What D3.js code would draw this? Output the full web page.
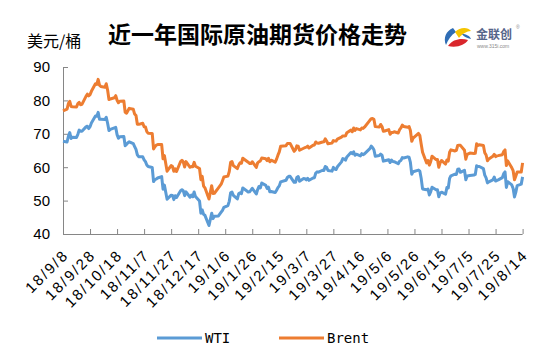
<!DOCTYPE html>
<html>
<head>
<meta charset="utf-8">
<script src="https://cdn.jsdelivr.net/npm/d3@7"></script>
<style>
  body { margin: 0; background: #fff; }
  svg { display: block; }
</style>
</head>
<body>
<svg id="chart" width="550" height="364"></svg>
<script>
// trading days (US settle dates), one row per month
var tradeDays = [
  "18/9/7","18/9/10","18/9/11","18/9/12","18/9/13","18/9/14","18/9/17","18/9/18","18/9/19","18/9/20","18/9/21","18/9/24","18/9/25","18/9/26","18/9/27","18/9/28",
  "18/10/1","18/10/2","18/10/3","18/10/4","18/10/5","18/10/8","18/10/9","18/10/10","18/10/11","18/10/12","18/10/15","18/10/16","18/10/17","18/10/18","18/10/19","18/10/22","18/10/23","18/10/24","18/10/25","18/10/26","18/10/29","18/10/30","18/10/31",
  "18/11/1","18/11/2","18/11/5","18/11/6","18/11/7","18/11/8","18/11/9","18/11/12","18/11/13","18/11/14","18/11/15","18/11/16","18/11/19","18/11/20","18/11/21","18/11/23","18/11/26","18/11/27","18/11/28","18/11/29","18/11/30",
  "18/12/3","18/12/4","18/12/5","18/12/6","18/12/7","18/12/10","18/12/11","18/12/12","18/12/13","18/12/14","18/12/17","18/12/18","18/12/19","18/12/20","18/12/21","18/12/24","18/12/26","18/12/27","18/12/28","18/12/31",
  "19/1/2","19/1/3","19/1/4","19/1/7","19/1/8","19/1/9","19/1/10","19/1/11","19/1/14","19/1/15","19/1/16","19/1/17","19/1/18","19/1/22","19/1/23","19/1/24","19/1/25","19/1/28","19/1/29","19/1/30","19/1/31",
  "19/2/1","19/2/4","19/2/5","19/2/6","19/2/7","19/2/8","19/2/11","19/2/12","19/2/13","19/2/14","19/2/15","19/2/19","19/2/20","19/2/21","19/2/22","19/2/25","19/2/26","19/2/27","19/2/28",
  "19/3/1","19/3/4","19/3/5","19/3/6","19/3/7","19/3/8","19/3/11","19/3/12","19/3/13","19/3/14","19/3/15","19/3/18","19/3/19","19/3/20","19/3/21","19/3/22","19/3/25","19/3/26","19/3/27","19/3/28","19/3/29",
  "19/4/1","19/4/2","19/4/3","19/4/4","19/4/5","19/4/8","19/4/9","19/4/10","19/4/11","19/4/12","19/4/15","19/4/16","19/4/17","19/4/18","19/4/22","19/4/23","19/4/24","19/4/25","19/4/26","19/4/29","19/4/30",
  "19/5/1","19/5/2","19/5/3","19/5/6","19/5/7","19/5/8","19/5/9","19/5/10","19/5/13","19/5/14","19/5/15","19/5/16","19/5/17","19/5/20","19/5/21","19/5/22","19/5/23","19/5/24","19/5/28","19/5/29","19/5/30","19/5/31",
  "19/6/3","19/6/4","19/6/5","19/6/6","19/6/7","19/6/10","19/6/11","19/6/12","19/6/13","19/6/14","19/6/17","19/6/18","19/6/19","19/6/20","19/6/21","19/6/24","19/6/25","19/6/26","19/6/27","19/6/28",
  "19/7/1","19/7/2","19/7/3","19/7/5","19/7/8","19/7/9","19/7/10","19/7/11","19/7/12","19/7/15","19/7/16","19/7/17","19/7/18","19/7/19","19/7/22","19/7/23","19/7/24","19/7/25","19/7/26","19/7/29","19/7/30","19/7/31",
  "19/8/1","19/8/2","19/8/5","19/8/6","19/8/7","19/8/8","19/8/9","19/8/12","19/8/13"
];

var wti = [
  67.75,67.54,69.25,70.37,68.59,68.99,68.91,69.85,71.12,70.80,70.78,72.08,72.28,71.57,72.12,73.25,
  75.30,75.23,76.41,74.33,74.34,74.29,74.96,73.17,70.97,71.34,71.78,71.92,69.75,68.65,69.12,69.17,66.43,66.82,67.33,67.59,67.04,66.18,65.31,
  63.69,63.14,63.10,62.21,61.67,60.67,60.19,59.93,55.69,56.25,56.46,56.76,57.20,53.43,54.63,50.42,51.63,51.56,50.29,51.45,50.93,
  52.95,53.25,52.89,51.49,52.61,51.00,51.65,51.15,52.58,51.20,49.88,46.24,47.20,45.88,45.59,42.53,46.22,44.61,45.33,45.41,
  46.54,47.09,47.96,48.52,49.78,52.36,52.59,51.59,50.51,52.11,52.31,52.07,53.80,52.57,52.62,53.13,53.69,51.99,53.31,54.23,53.79,
  55.26,54.56,53.66,54.01,52.64,52.72,52.41,53.10,53.90,54.41,55.59,56.09,56.92,57.26,57.26,55.48,55.50,56.94,57.22,
  55.80,56.59,56.56,56.22,56.66,56.07,56.79,56.87,58.26,58.61,58.52,59.09,59.03,60.23,59.98,59.04,58.82,59.94,59.41,59.30,60.14,
  61.59,62.58,62.46,62.10,63.08,64.40,64.05,64.61,63.58,63.89,63.40,64.05,63.76,64.00,65.55,66.30,65.89,65.21,63.30,63.50,63.91,
  63.60,61.81,61.94,62.25,61.40,62.12,61.70,61.66,61.04,61.78,62.02,62.87,62.76,63.10,62.99,61.42,57.91,58.63,59.14,58.81,56.59,53.50,
  53.25,53.48,51.68,52.59,53.99,53.26,53.27,51.14,52.28,52.51,51.93,53.90,53.76,56.65,57.43,57.90,57.83,59.38,59.43,58.47,
  59.09,56.25,57.34,57.51,57.66,57.83,60.43,60.20,60.21,59.58,57.62,56.78,55.30,55.63,56.22,57.04,55.88,56.02,56.20,56.87,58.05,58.58,
  53.95,55.66,54.69,53.63,51.09,52.54,54.50,54.93,57.10
];

var brent = [
  76.83,77.37,79.06,79.74,78.18,78.09,78.05,79.03,79.40,78.70,78.80,81.20,81.87,81.34,81.72,82.72,
  84.98,84.80,86.29,84.58,84.16,83.91,85.00,83.09,80.26,80.43,80.78,81.41,80.05,79.29,79.78,79.83,76.44,76.17,76.89,77.62,77.34,75.91,75.47,
  72.89,72.83,73.17,72.13,72.07,70.65,70.18,70.12,65.47,66.12,66.62,66.76,66.79,62.53,63.48,58.80,60.48,60.21,58.76,59.51,58.71,
  61.69,62.08,61.56,60.06,61.67,59.97,60.20,60.15,61.45,60.28,59.61,56.26,57.24,54.35,53.82,50.47,54.47,52.16,52.20,53.80,
  54.91,55.95,57.06,57.33,58.72,61.44,61.68,60.48,59.59,60.64,61.32,61.18,62.70,61.50,61.14,61.09,61.64,59.93,61.32,61.65,61.89,
  62.75,62.51,61.98,62.69,61.63,62.10,61.51,62.42,63.61,64.57,66.25,66.45,67.08,67.07,67.12,64.76,65.21,66.39,66.31,
  65.07,65.67,65.86,65.99,66.30,65.74,66.58,66.67,67.55,67.23,67.16,67.54,67.61,68.50,67.86,67.03,67.21,67.97,67.83,67.82,68.39,
  69.01,69.37,69.31,69.40,70.34,71.10,70.61,71.73,71.02,71.55,71.18,71.72,71.62,71.97,74.04,74.51,74.57,74.35,72.15,72.04,72.80,
  72.18,70.75,70.85,71.24,69.88,70.37,70.39,70.62,70.23,71.24,71.77,72.62,72.21,71.97,72.18,70.99,67.76,68.69,70.11,69.45,66.87,64.49,
  61.28,61.97,60.63,61.67,63.29,62.29,62.29,59.97,61.31,62.01,60.94,62.14,61.82,64.45,65.20,64.86,65.05,66.49,66.55,66.55,
  65.06,62.40,63.82,64.23,64.11,64.16,67.01,66.52,66.72,66.48,64.35,63.66,61.93,62.47,63.26,63.83,63.18,63.39,63.46,63.71,64.72,65.17,
  60.50,61.89,59.81,58.94,56.23,57.38,58.53,58.57,61.30
];

var tickLabels = ["18/9/8","18/9/28","18/10/18","18/11/7","18/11/27","18/12/17","19/1/6","19/1/26",
  "19/2/15","19/3/7","19/3/27","19/4/16","19/5/6","19/5/26","19/6/15","19/7/5","19/7/25","19/8/14"];
var yTicks = [40, 50, 60, 70, 80, 90];
var seriesNames = ["WTI", "Brent"];
var seriesColors = ["#5b9bd5", "#ed7d31"];

var parse = d3.utcParse("%y/%m/%d");
var fmt = d3.utcFormat("%y/%-m/%-d");

// the sheet stamps each settle with the next (Beijing) calendar day
var days = tradeDays.map(function(s) { return d3.utcDay.offset(parse(s), 1); });

var plotL = 63, plotR = 522.6, plotT = 67, plotB = 234;

var X = d3.scaleUtc()
    .domain([parse(tickLabels[0]), parse(tickLabels[tickLabels.length - 1])])
    .range([plotL, plotR]);
var Y = d3.scaleLinear()
    .domain([40, 90])
    .range([plotB, plotT]);

var svg = d3.select("#chart");
svg.append("rect").attr("width", 550).attr("height", 364).attr("fill", "#fff");

// titles
svg.append("text")
    .attr("x", 108).attr("y", 43)
    .style("font-family", "'Noto Sans CJK SC', sans-serif")
    .style("font-size", "23px").style("font-weight", "bold")
    .attr("fill", "#000")
    .text("近一年国际原油期货价格走势");

svg.append("text")
    .attr("x", 27).attr("y", 47)
    .style("font-family", "'Noto Sans CJK SC', sans-serif")
    .style("font-size", "16px")
    .attr("fill", "#000")
    .text("美元/桶");

// axes
var xAxis = d3.axisBottom(X)
    .tickValues(tickLabels.map(parse))
    .tickSize(-5)
    .tickFormat(fmt);
var yAxis = d3.axisLeft(Y)
    .tickValues(yTicks)
    .tickSize(-5)
    .tickPadding(13);

var gx = svg.append("g")
    .attr("transform", "translate(0," + plotB + ")")
    .call(xAxis);
gx.select(".domain").attr("d", "M" + plotL + ",0.5H" + plotR);
gx.selectAll(".tick line").attr("stroke", "#868686");
gx.selectAll(".tick text")
    .attr("text-anchor", "end")
    .attr("dy", null).attr("y", 0)
    .attr("transform", "translate(6,22) rotate(-45)")
    .style("font-family", "'Liberation Sans', Arial, sans-serif")
    .style("font-size", "15px")
    .style("letter-spacing", "2px")
    .attr("fill", "#000");

var gy = svg.append("g")
    .attr("transform", "translate(" + plotL + ",0)")
    .call(yAxis);
gy.select(".domain").attr("d", "M0.5," + plotT + "V" + plotB);
gy.selectAll(".tick line").attr("stroke", "#868686");
gy.selectAll(".tick text")
    .style("font-family", "'Liberation Sans', Arial, sans-serif")
    .style("font-size", "15px")
    .attr("fill", "#000");
svg.selectAll(".domain").attr("stroke", "#868686");

// lines
var line = d3.line()
    .x(function(d) { return X(d[0]); })
    .y(function(d) { return Y(d[1]); });

[wti, brent].forEach(function(vals, i) {
    svg.append("path")
        .datum(days.map(function(d, j) { return [d, vals[j]]; }))
        .attr("fill", "none")
        .attr("stroke", seriesColors[i])
        .attr("stroke-width", 3)
        .attr("stroke-linejoin", "round")
        .attr("d", line);
});

// legend
var legX = [157, 279];
seriesNames.forEach(function(name, i) {
    svg.append("line")
        .attr("x1", legX[i]).attr("x2", legX[i] + 45)
        .attr("y1", 338).attr("y2", 338)
        .attr("stroke", seriesColors[i]).attr("stroke-width", 3);
    svg.append("text")
        .attr("x", legX[i] + 48).attr("y", 343)
        .style("font-family", "'DejaVu Sans Mono', monospace")
        .style("font-size", "14px")
        .attr("fill", "#000")
        .text(name);
});

// logo, roughly
var logo = svg.append("g").attr("transform", "translate(443,26)");
logo.append("path").attr("d", "M10,2 C3,5 0,12 3,19 C5,14 8,9 13,6 Z").attr("fill", "#2f6db5");
logo.append("path").attr("d", "M12,6 C17,1 25,1 28,5 C24,5 19,8 16,12 Z").attr("fill", "#f5c400");
logo.append("path").attr("d", "M5,20 C10,13 18,12 25,14 C22,19 14,22 5,20 Z").attr("fill", "#d9262c");
logo.append("path").attr("d", "M19,8 C23,8 27,10 28,13 C24,12 21,11 19,8 Z").attr("fill", "#2f6db5");
svg.append("text")
    .attr("x", 476).attr("y", 39)
    .style("font-family", "'Noto Sans CJK SC', sans-serif")
    .style("font-size", "12px").style("font-weight", "bold")
    .attr("fill", "#56658a")
    .text("金联创");
svg.append("text")
    .attr("x", 477).attr("y", 48)
    .style("font-family", "'Liberation Sans', Arial, sans-serif")
    .style("font-size", "5px")
    .attr("fill", "#8a8a8a")
    .text("www.315i.com");
svg.append("text")
    .attr("x", 516).attr("y", 29)
    .style("font-family", "'Liberation Sans', Arial, sans-serif")
    .style("font-size", "5px")
    .attr("fill", "#8a8a8a")
    .text("®");
</script>
</body>
</html>
